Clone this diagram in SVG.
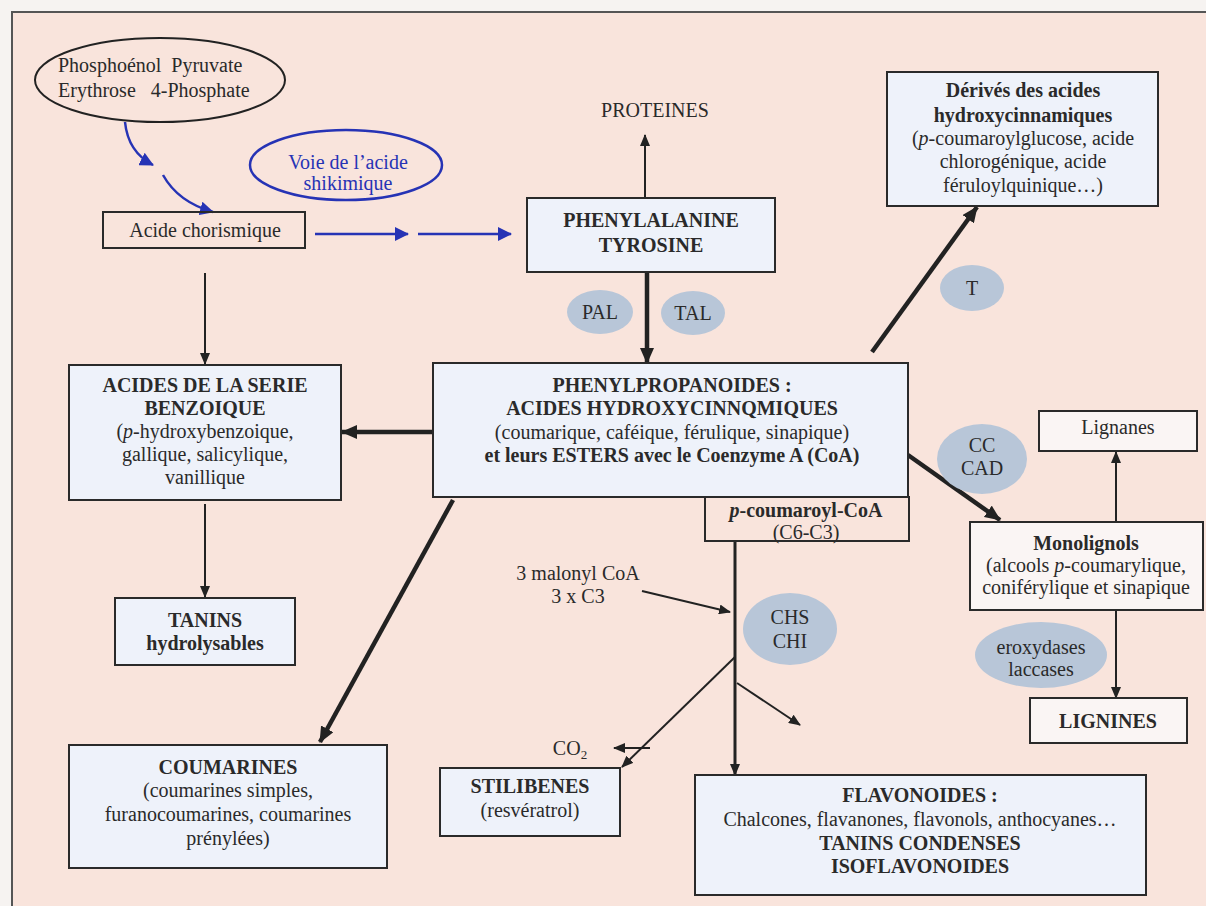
<svg xmlns="http://www.w3.org/2000/svg" width="1206" height="906" viewBox="0 0 1206 906">
<style>
text{font-family:"Liberation Serif","Times New Roman",serif;font-size:20px;fill:#2a2a2a;text-anchor:middle}
.b{font-weight:bold}
.i{font-style:italic}
.l{text-anchor:start;white-space:pre}
.blue{fill:#2633b5}
.box{fill:#eef2fa;stroke:#2a2a2a;stroke-width:2}
.boxw{fill:#faf5f4;stroke:#2a2a2a;stroke-width:2}
.boxp{fill:none;stroke:#2a2a2a;stroke-width:2}
.enz{fill:#b8c6d8}
.c{fill:none;stroke:#222;stroke-width:2}
.ct{fill:none;stroke:#222;stroke-width:4.5}
.cm{fill:none;stroke:#222;stroke-width:3}
.cb{fill:none;stroke:#2633b5;stroke-width:2.5}
</style>
<defs>
<marker id="ah" viewBox="0 0 12 10" refX="11" refY="5" markerWidth="12" markerHeight="10" orient="auto" markerUnits="userSpaceOnUse"><path d="M0,0 L12,5 L0,10 z" fill="#222"/></marker>
<marker id="aht" viewBox="0 0 16 14" refX="15" refY="7" markerWidth="16" markerHeight="14" orient="auto" markerUnits="userSpaceOnUse"><path d="M0,0 L16,7 L0,14 z" fill="#222"/></marker>
<marker id="ahb" viewBox="0 0 14 14" refX="13" refY="7" markerWidth="14" markerHeight="14" orient="auto" markerUnits="userSpaceOnUse"><path d="M0,0 L14,7 L0,14 z" fill="#2633b5"/></marker>
</defs>
<rect x="0" y="0" width="1206" height="906" fill="#f6f3f1"/>
<rect x="12" y="12" width="1194" height="894" fill="#f9e4dc"/>
<path d="M12,906 V12 H1206" fill="none" stroke="#555" stroke-width="2"/>

<g id="connectors">
<path class="cb" d="M125,122 Q128,152 153,165" marker-end="url(#ahb)"/>
<path class="cb" d="M163,175 Q178,202 213,212" marker-end="url(#ahb)"/>
<path class="cb" d="M315,234 H408" marker-end="url(#ahb)"/>
<path class="cb" d="M418,234 H511" marker-end="url(#ahb)"/>
<path class="c" d="M205,273 V364" marker-end="url(#ah)"/>
<path class="c" d="M645,198 V135" marker-end="url(#ah)"/>
<path class="ct" d="M647,272 V363" marker-end="url(#aht)"/>
<path class="ct" d="M432,432 H342" marker-end="url(#aht)"/>
<path class="c" d="M205,504 V597" marker-end="url(#ah)"/>
<path class="ct" d="M453,500 L320,742" marker-end="url(#aht)"/>
<path class="ct" d="M872,352 L977,207" marker-end="url(#aht)"/>
<path class="ct" d="M908,455 L1000,520" marker-end="url(#aht)"/>
<path class="c" d="M1116,522 V452" marker-end="url(#ah)"/>
<path class="c" d="M1116,610 V698" marker-end="url(#ah)"/>
<path class="cm" d="M735,541 V775" marker-end="url(#ah)"/>
<path class="c" d="M642,591 L730,612" marker-end="url(#ah)"/>
<path class="c" d="M735,657 L622,767" marker-end="url(#ah)"/>
<path class="c" d="M737,683 L800,725" marker-end="url(#ah)"/>
<path class="c" d="M650,748 H614" marker-end="url(#ah)"/>
</g>

<g id="pep">
<ellipse cx="160" cy="80" rx="125" ry="42" fill="none" stroke="#222" stroke-width="2"/>
<text class="l" x="58" y="72">Phosphoénol  Pyruvate</text>
<text class="l" x="58" y="97">Erythrose   4-Phosphate</text>
</g>
<g id="shikimique">
<ellipse cx="346" cy="165" rx="96" ry="35" fill="none" stroke="#2633b5" stroke-width="2.5"/>
<text class="blue" x="348" y="169">Voie de l’acide</text>
<text class="blue" x="348" y="190">shikimique</text>
</g>
<g id="chorismique">
<rect class="boxp" x="103" y="212" width="202" height="36"/>
<text x="205" y="237">Acide chorismique</text>
</g>
<g id="proteines">
<text x="655" y="117">PROTEINES</text>
</g>
<g id="phenylalanine">
<rect class="box" x="527" y="198" width="248" height="74"/>
<text class="b" x="651" y="227">PHENYLALANINE</text>
<text class="b" x="651" y="252">TYROSINE</text>
</g>
<g id="pal"><ellipse class="enz" cx="600" cy="312" rx="33" ry="22"/><text x="600" y="319">PAL</text></g>
<g id="tal"><ellipse class="enz" cx="693" cy="313" rx="32" ry="22"/><text x="693" y="320">TAL</text></g>
<g id="derives">
<rect class="box" x="887" y="72" width="271" height="134"/>
<text class="b" x="1023" y="97">Dérivés des acides</text>
<text class="b" x="1023" y="122">hydroxycinnamiques</text>
<text x="1023" y="145">(<tspan class="i">p</tspan>-coumaroylglucose, acide</text>
<text x="1023" y="168">chlorogénique, acide</text>
<text x="1023" y="192">féruloylquinique…)</text>
</g>
<g id="t"><ellipse class="enz" cx="972" cy="288" rx="32" ry="23"/><text x="972" y="295">T</text></g>
<g id="benzoique">
<rect class="box" x="69" y="365" width="272" height="135"/>
<text class="b" x="205" y="392">ACIDES DE LA SERIE</text>
<text class="b" x="205" y="415">BENZOIQUE</text>
<text x="205" y="438">(<tspan class="i">p</tspan>-hydroxybenzoique,</text>
<text x="205" y="461">gallique, salicylique,</text>
<text x="205" y="484">vanillique</text>
</g>
<g id="phenylpropanoides">
<rect class="box" x="433" y="363" width="475" height="134"/>
<text class="b" x="672" y="392">PHENYLPROPANOIDES :</text>
<text class="b" x="672" y="415">ACIDES HYDROXYCINNQMIQUES</text>
<text x="672" y="439">(coumarique, caféique, férulique, sinapique)</text>
<text class="b" x="672" y="462">et leurs ESTERS avec le Coenzyme A (CoA)</text>
</g>
<g id="coumaroyl">
<rect class="boxp" x="705" y="497" width="204" height="44"/>
<text class="b" x="806" y="517"><tspan class="i">p</tspan>-coumaroyl-CoA</text>
<text x="806" y="539">(C6-C3)</text>
</g>
<g id="cccad"><ellipse class="enz" cx="982" cy="459" rx="45" ry="35"/><text x="982" y="452">CC</text><text x="982" y="475">CAD</text></g>
<g id="lignanes">
<rect class="boxw" x="1039" y="411" width="158" height="40"/>
<text x="1118" y="434">Lignanes</text>
</g>
<g id="monolignols">
<rect class="boxw" x="970" y="522" width="233" height="88"/>
<text class="b" x="1086" y="550">Monolignols</text>
<text x="1086" y="572">(alcools <tspan class="i">p</tspan>-coumarylique,</text>
<text x="1086" y="594">coniférylique et sinapique</text>
</g>
<g id="peroxydases"><ellipse class="enz" cx="1041" cy="655" rx="66" ry="33"/><text x="1041" y="654">eroxydases</text><text x="1041" y="676">laccases</text></g>
<g id="lignines">
<rect class="boxw" x="1030" y="698" width="157" height="45"/>
<text class="b" x="1108" y="728">LIGNINES</text>
</g>
<g id="tanins">
<rect class="box" x="115" y="598" width="180" height="67"/>
<text class="b" x="205" y="627">TANINS</text>
<text class="b" x="205" y="650">hydrolysables</text>
</g>
<g id="malonyl">
<text x="578" y="580">3 malonyl CoA</text>
<text x="578" y="603">3 x C3</text>
</g>
<g id="chs"><ellipse class="enz" cx="790" cy="629" rx="47" ry="36"/><text x="790" y="624">CHS</text><text x="790" y="648">CHI</text></g>
<g id="co2"><text x="570" y="755">CO<tspan font-size="13" dy="4">2</tspan></text></g>
<g id="coumarines">
<rect class="box" x="69" y="745" width="318" height="123"/>
<text class="b" x="228" y="774">COUMARINES</text>
<text x="228" y="797">(coumarines simples,</text>
<text x="228" y="821">furanocoumarines, coumarines</text>
<text x="228" y="845">prénylées)</text>
</g>
<g id="stilibenes">
<rect class="box" x="440" y="768" width="180" height="68"/>
<text class="b" x="530" y="793">STILIBENES</text>
<text x="530" y="817">(resvératrol)</text>
</g>
<g id="flavonoides">
<rect class="box" x="695" y="775" width="451" height="120"/>
<text class="b" x="920" y="802">FLAVONOIDES :</text>
<text x="920" y="826">Chalcones, flavanones, flavonols, anthocyanes…</text>
<text class="b" x="920" y="850">TANINS CONDENSES</text>
<text class="b" x="920" y="873">ISOFLAVONOIDES</text>
</g>
</svg>
